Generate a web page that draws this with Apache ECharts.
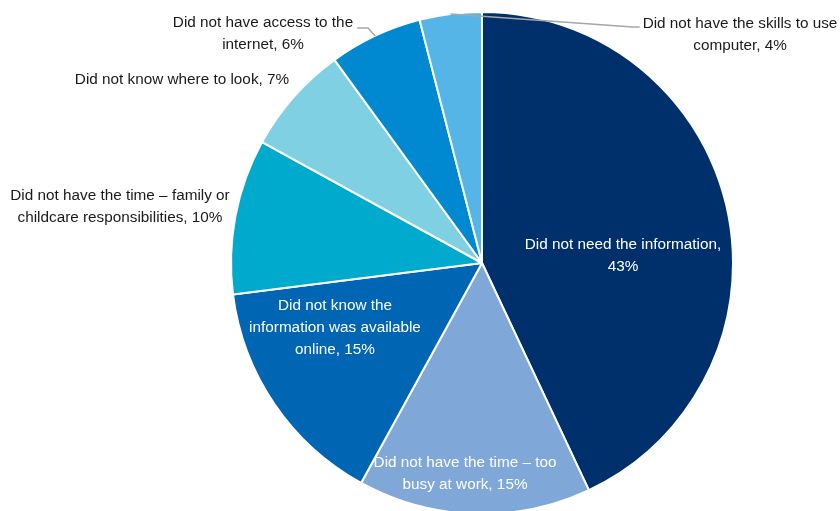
<!DOCTYPE html>
<html>
<head>
<meta charset="utf-8">
<script src="https://cdn.jsdelivr.net/npm/echarts@6/dist/echarts.min.js"></script>
<style>
  html, body { margin: 0; padding: 0; background: #ffffff; }
  #chart { width: 840px; height: 511px; }
</style>
</head>
<body>
<div id="chart"></div>
<script>
// Reasons for not looking up information online (share of respondents, %)
const categories = [
  'Did not need the information',
  'Did not have the time – too\nbusy at work',
  'Did not know the\ninformation was available\nonline',
  'Did not have the time – family or\nchildcare responsibilities',
  'Did not know where to look',
  'Did not have access to the\ninternet',
  'Did not have the skills to use\ncomputer'
];
const values = [43, 15, 15, 10, 7, 6, 4];
// text placed between the reason and its share
const separators = [',\n', ', ', ', ', ', ', ', ', ', ', ', '];

// slice colours
const palette = ['#00306b', '#7fa7d8', '#0066b3', '#00aacc', '#80d0e3', '#0088d0', '#55b5e6'];
// labels drawn inside their slice (white) vs outside (dark)
const insideLabel = [true, true, true, false, false, false, false];
const leaderLine = [false, false, false, false, false, true, true];
// label centre positions in pixels
const labelSpots = [[623, 256], [465, 474], [335, 328], [120, 207], [182, 80], [263, 34], [740, 35]];

// pie geometry
const PIE_CX = 482, PIE_CY = 263, PIE_R = 251;

const chart = echarts.init(document.getElementById('chart'), null, { renderer: 'canvas' });

// point on the rim in the middle of slice i (slices run clockwise from 12 o'clock)
function rimPoint(i) {
  const total = values.reduce((a, b) => a + b, 0);
  let before = 0;
  for (let k = 0; k < i; k++) before += values[k];
  const ang = (before + values[i] / 2) / total * 2 * Math.PI;
  return [PIE_CX + PIE_R * Math.sin(ang), PIE_CY - PIE_R * Math.cos(ang)];
}

// Leader line: from the slice rim, bending into the side of the label nearest the pie.
function leaderPoints(i, params, spot) {
  if (!leaderLine[i]) return undefined;
  const edge = rimPoint(i);
  const halfW = params.labelRect.width / 2;
  if (spot[0] < edge[0]) {
    // label to the left of the slice
    const endX = spot[0] + halfW + 4;
    const y = spot[1] - 6;
    return [edge, [edge[0] - 7, y], [endX, y]];
  }
  // label to the right of the slice
  const endX = spot[0] - halfW - 3;
  const y = spot[1] - 8;
  return [edge, [endX - 7, y], [endX, y]];
}

const pieBase = {
  type: 'pie',
  center: [PIE_CX, PIE_CY],
  radius: PIE_R,
  startAngle: 90,
  clockwise: true,
  avoidLabelOverlap: false,
  emphasis: { disabled: true },
  silent: true
};

// coloured slices
const slices = Object.assign({}, pieBase, {
  z: 2,
  itemStyle: { borderColor: '#ffffff', borderWidth: 2 },
  label: { show: false },
  labelLine: { show: false },
  data: categories.map((name, i) => ({
    name: name,
    value: values[i],
    itemStyle: { color: palette[i] }
  }))
});

// same pie, invisible, carrying the labels and leader lines above the slices
const labels = Object.assign({}, pieBase, {
  z: 3,
  itemStyle: { color: 'rgba(0,0,0,0)', borderWidth: 0 },
  label: {
    show: true,
    position: 'outside',
    fontFamily: 'Liberation Sans, Arial, sans-serif',
    fontSize: 15.3,
    lineHeight: 22,
    align: 'center',
    formatter: (p) => p.name + separators[p.dataIndex] + p.value + '%'
  },
  labelLine: {
    show: true,
    lineStyle: { color: '#a6a6a6', width: 1.5 }
  },
  labelLayout: (params) => {
    const i = params.dataIndex;
    const spot = labelSpots[i];
    const out = { x: spot[0], y: spot[1], align: 'center', verticalAlign: 'middle' };
    const pts = leaderPoints(i, params, spot);
    if (pts) out.labelLinePoints = pts;
    return out;
  },
  data: categories.map((name, i) => ({
    name: name,
    value: values[i],
    label: { color: insideLabel[i] ? '#ffffff' : '#1a1a1a' },
    labelLine: { show: leaderLine[i] }
  }))
});

chart.setOption({
  animation: false,
  series: [slices, labels]
});
</script>
</body>
</html>
